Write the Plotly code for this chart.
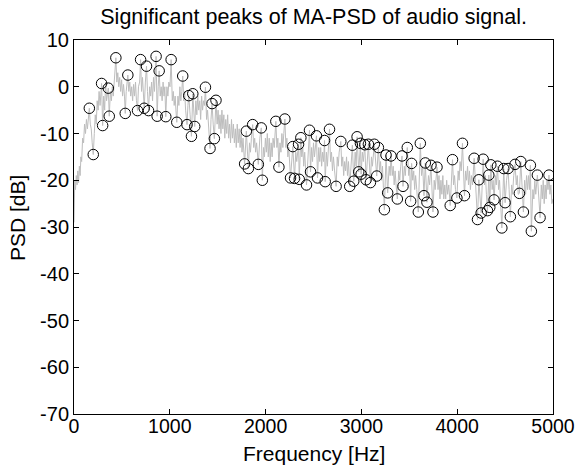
import plotly.graph_objects as go

# Significant peaks (circles)
peak_freq = [160, 201, 288, 299, 358, 368, 437, 535, 562, 663, 695, 733, 757, 778, 857, 868, 889, 958,
             1014, 1073, 1135, 1180, 1198, 1226, 1240, 1260, 1372, 1420, 1441, 1465, 1482,
             1781, 1799, 1820, 1865, 1924, 1955, 1966, 2107, 2139, 2201, 2260, 2284, 2302, 2344, 2351,
             2368, 2427, 2458, 2469, 2531, 2542, 2615, 2622, 2667, 2736, 2785, 2878, 2906, 2920, 2955,
             2972, 2990, 2997, 3035, 3049, 3073, 3094, 3135, 3160, 3177, 3240, 3257, 3274, 3309, 3375,
             3424, 3434, 3479, 3514, 3524, 3594, 3615, 3653, 3667, 3684, 3726, 3747, 3789, 3927, 3951,
             3997, 4055, 4076, 4177, 4212, 4226, 4250, 4271, 4316, 4330, 4340, 4351, 4385, 4420, 4466,
             4486, 4500, 4531, 4555, 4604, 4649, 4664, 4691, 4764, 4774, 4837, 4865, 4958]
peak_db = [-4.6, -14.5, 0.7, -8.3, -0.3, -6.3, 6.2, -5.7, 2.5, -5.1, 5.8, -4.6, 4.4, -5.1, 6.5, -6.3, 3.4, -6.4,
           5.8, -7.6, 2.3, -8.1, -1.9, -10.6, -1.5, -8.5, -0.1, -13.2, -3.6, -11.1, -2.9,
           -16.5, -9.5, -17.5, -8.1, -16.6, -8.8, -20.0, -7.4, -17.2, -6.9, -19.5, -12.8, -19.6, -12.3, -19.8,
           -10.9, -21.0, -9.3, -18.2, -10.5, -19.5, -11.5, -20.3, -9.1, -21.3, -11.7, -21.3, -12.5, -20.2, -10.7,
           -18.2, -12.1, -18.7, -12.4, -19.9, -12.3, -20.5, -12.3, -19.1, -13.0, -26.3, -14.6, -22.7, -14.8, -24.0,
           -14.8, -21.3, -13.0, -24.5, -16.4, -26.8, -12.1, -23.3, -16.3, -24.7, -16.8, -26.8, -17.2, -25.4, -15.6,
           -23.8, -12.1, -23.3, -15.3, -28.4, -19.9, -27.0, -15.5, -26.5, -18.9, -25.8, -16.7, -24.2, -17.0, -30.2,
           -17.5, -24.8, -17.5, -27.8, -16.6, -22.8, -16.0, -26.8, -16.8, -30.9, -18.9, -28.0, -18.9]

# MA-PSD curve (grey line)
line_pts = [
    (0, -29), (8, -20), (16, -22), (24, -19), (32, -21), (40, -18), (48, -20.5), (56, -17), (64, -19),
    (72, -15), (80, -16), (90, -11), (100, -12), (110, -8), (120, -10), (130, -7), (140, -9), (160, -4.6),
    (170, -8), (180, -9), (190, -12), (201, -14.5), (212, -10), (222, -6), (232, -8), (242, -3), (252, -5),
    (262, -1), (272, -4), (288, 0.7), (299, -8.3), (310, -2), (320, -5), (330, 1), (340, -3), (358, -0.3),
    (368, -6.3), (380, -1), (390, -3), (400, 0), (410, -2), (420, 1), (437, 6.2), (447, 1), (457, 3),
    (467, 0), (477, 2), (487, -1), (497, 1.5), (507, -2), (517, 0.5), (527, -2), (535, -5.7), (545, -1),
    (552, 0), (562, 2.5), (572, -1), (582, 1), (592, -2), (602, 0), (612, -3), (622, 0.5), (632, -2),
    (642, 1), (652, -3), (663, -5.1), (673, 0), (685, 1), (695, 5.8), (705, -1), (715, 2), (723, -2),
    (733, -4.6), (745, 1), (757, 4.4), (767, -1), (778, -5.1), (790, 0), (800, -2), (810, 1), (820, -3),
    (830, 2), (840, -1), (857, 6.5), (868, -6.3), (879, 0), (889, 3.4), (900, -2), (910, 0), (920, -3),
    (930, 1), (940, -2), (948, 0), (958, -6.4), (970, 0), (980, -2), (990, 1), (1002, 0), (1014, 5.8),
    (1026, -3), (1036, -1), (1046, -4), (1056, -2), (1064, -5), (1073, -7.6), (1085, -2), (1095, -4),
    (1105, 0), (1115, -3), (1125, -1), (1135, 2.3), (1145, -3), (1155, -1), (1165, -5), (1180, -8.1),
    (1189, -4), (1198, -1.9), (1212, -6), (1226, -10.6), (1240, -1.5), (1250, -5), (1260, -8.5),
    (1272, -3), (1282, -6), (1292, -2), (1302, -5), (1312, -3), (1322, -7), (1332, -2), (1342, -5),
    (1352, -3), (1362, -4), (1372, -0.1), (1384, -7), (1394, -5), (1404, -9), (1420, -13.2), (1430, -7),
    (1441, -3.6), (1453, -8), (1465, -11.1), (1482, -2.9), (1494, -8), (1504, -5), (1514, -9), (1524, -6),
    (1534, -10), (1544, -5), (1554, -9), (1564, -6), (1574, -11), (1584, -7), (1594, -10), (1604, -6),
    (1614, -11), (1624, -8), (1634, -12), (1644, -7), (1654, -11), (1664, -8), (1674, -12), (1684, -9),
    (1694, -13), (1704, -8), (1714, -12), (1724, -9), (1734, -13), (1744, -10), (1754, -14), (1764, -11),
    (1781, -16.5), (1799, -9.5), (1820, -17.5), (1832, -12), (1842, -14), (1852, -11), (1865, -8.1),
    (1876, -13), (1886, -11), (1896, -14), (1906, -12), (1924, -16.6), (1940, -11), (1955, -8.8),
    (1966, -20.0), (1978, -13), (1988, -15), (1998, -11), (2008, -14), (2018, -10), (2028, -15),
    (2038, -11), (2048, -16), (2058, -12), (2068, -15), (2078, -11), (2090, -13), (2107, -7.4),
    (2118, -13), (2128, -11), (2139, -17.2), (2150, -12), (2160, -14), (2170, -10), (2180, -13),
    (2190, -10), (2201, -6.9), (2212, -13), (2222, -11), (2232, -15), (2242, -13), (2260, -19.5),
    (2272, -15), (2284, -12.8), (2302, -19.6), (2315, -14), (2325, -16), (2335, -13), (2344, -12.3),
    (2351, -19.8), (2368, -10.9), (2378, -15), (2388, -13), (2398, -17), (2408, -14), (2427, -21.0),
    (2442, -14), (2458, -9.3), (2469, -18.2), (2480, -13), (2490, -16), (2500, -12), (2510, -15),
    (2520, -13), (2531, -10.5), (2542, -19.5), (2555, -13), (2565, -16), (2575, -13), (2585, -17),
    (2595, -14), (2605, -16), (2615, -11.5), (2622, -20.3), (2635, -14), (2645, -17), (2655, -13),
    (2667, -9.1), (2678, -16), (2688, -14), (2698, -18), (2708, -15), (2720, -18), (2736, -21.3),
    (2748, -15), (2758, -17), (2768, -14), (2785, -11.7), (2795, -17), (2805, -15), (2815, -19),
    (2825, -16), (2835, -18), (2845, -15), (2855, -19), (2865, -16), (2878, -21.3), (2895, -15),
    (2906, -12.5), (2920, -20.2), (2935, -14), (2945, -17), (2955, -10.7), (2972, -18.2), (2990, -12.1),
    (2997, -18.7), (3010, -14), (3020, -16), (3035, -12.4), (3049, -19.9), (3060, -15), (3073, -12.3),
    (3094, -20.5), (3105, -15), (3115, -17), (3125, -14), (3135, -12.3), (3160, -19.1), (3177, -13.0),
    (3190, -18), (3200, -16), (3210, -20), (3220, -17), (3240, -26.3), (3257, -14.6), (3274, -22.7),
    (3290, -17), (3300, -19), (3309, -14.8), (3322, -19), (3332, -17), (3342, -21), (3352, -18),
    (3362, -21), (3375, -24.0), (3390, -18), (3400, -20), (3410, -17), (3424, -14.8), (3434, -21.3),
    (3448, -17), (3458, -19), (3468, -16), (3479, -13.0), (3494, -19), (3504, -17), (3514, -24.5),
    (3524, -16.4), (3536, -20), (3546, -18), (3556, -22), (3566, -19), (3578, -22), (3594, -26.8),
    (3615, -12.1), (3628, -19), (3640, -17), (3653, -23.3), (3667, -16.3), (3684, -24.7), (3700, -19),
    (3712, -21), (3726, -16.8), (3747, -26.8), (3760, -20), (3770, -22), (3789, -17.2), (3800, -22),
    (3810, -19), (3820, -24), (3830, -20), (3840, -23), (3850, -19), (3860, -24), (3870, -21),
    (3880, -24), (3890, -20), (3900, -23), (3912, -21), (3927, -25.4), (3951, -15.6), (3962, -21),
    (3972, -19), (3982, -22), (3997, -23.8), (4010, -18), (4020, -20), (4030, -16), (4042, -18),
    (4055, -12.1), (4076, -23.3), (4088, -18), (4098, -20), (4108, -17), (4118, -21), (4128, -18),
    (4138, -22), (4148, -19), (4160, -21), (4177, -15.3), (4212, -28.4), (4226, -19.9), (4250, -27.0),
    (4271, -15.5), (4285, -21), (4295, -19), (4305, -23), (4316, -26.5), (4330, -18.9), (4340, -25.8),
    (4351, -16.7), (4365, -22), (4375, -20), (4385, -24.2), (4398, -19), (4408, -21), (4420, -17.0),
    (4432, -22), (4442, -20), (4452, -24), (4466, -30.2), (4486, -17.5), (4500, -24.8), (4515, -20),
    (4531, -17.5), (4542, -22), (4555, -27.8), (4568, -21), (4578, -23), (4590, -19), (4604, -16.6),
    (4617, -21), (4627, -19), (4637, -23), (4649, -22.8), (4664, -16.0), (4677, -22), (4691, -26.8),
    (4704, -20), (4714, -23), (4724, -19), (4734, -22), (4744, -19), (4754, -22), (4764, -16.8),
    (4774, -30.9), (4790, -22), (4800, -24), (4810, -20), (4820, -23), (4837, -18.9), (4850, -23),
    (4865, -28.0), (4878, -21), (4888, -24), (4898, -20), (4908, -25), (4918, -21), (4928, -24),
    (4938, -20), (4948, -22), (4958, -18.9), (4968, -23), (4978, -21), (4988, -25), (5000, -24),
]
line_freq = [p[0] for p in line_pts]
line_db = [p[1] for p in line_pts]

x_ticks = [0, 1000, 2000, 3000, 4000, 5000]
y_ticks = [10, 0, -10, -20, -30, -40, -50, -60, -70]

FONT = "Liberation Sans, Arial, Helvetica, sans-serif"

fig = go.Figure()
fig.add_trace(go.Scatter(x=line_freq, y=line_db, mode="lines",
                         line=dict(color="#bdbdbd", width=1), hoverinfo="skip"))
fig.add_trace(go.Scatter(x=peak_freq, y=peak_db, mode="markers",
                         marker=dict(symbol="circle-open", size=10.5, color="black",
                                     line=dict(width=1, color="black"))))

axis_common = dict(showgrid=False, zeroline=False, showline=True, linecolor="black", linewidth=1,
                   mirror="ticks", ticks="inside", ticklen=5, tickcolor="black", tickwidth=1,
                   automargin=False)

fig.update_xaxes(range=[0, 5000], tickvals=x_ticks, ticktext=[str(v) for v in x_ticks],
                 tickfont=dict(family=FONT, size=19.5, color="black"), ticklabelstandoff=-5,
                 **axis_common)
fig.update_yaxes(range=[-70, 10], tickvals=y_ticks, ticktext=[str(v) for v in y_ticks],
                 tickfont=dict(family=FONT, size=20, color="black"), **axis_common)

fig.update_layout(
    width=577, height=467,
    margin=dict(l=74, r=24, t=40, b=53, autoexpand=False),
    paper_bgcolor="white", plot_bgcolor="white",
    showlegend=False,
    font=dict(family=FONT, color="black"),
    title=dict(text="Significant peaks of MA-PSD of audio signal.", x=0.5435, xanchor="center",
               xref="container", y=1 - 16 / 467, yref="container", yanchor="middle",
               font=dict(family=FONT, size=21.5, color="black")),
    annotations=[
        dict(text="Frequency [Hz]", x=0.5, xref="paper", y=-(453 - 414) / 374, yref="paper",
             xanchor="center", yanchor="middle", showarrow=False,
             font=dict(family=FONT, size=21, color="black")),
        dict(text="PSD [dB]", x=-(74 - 17) / 479, xref="paper", y=(414 - 218) / 374, yref="paper",
             xanchor="center", yanchor="middle", textangle=-90, showarrow=False,
             font=dict(family=FONT, size=21, color="black")),
    ],
)

fig.write_html("out.html")
